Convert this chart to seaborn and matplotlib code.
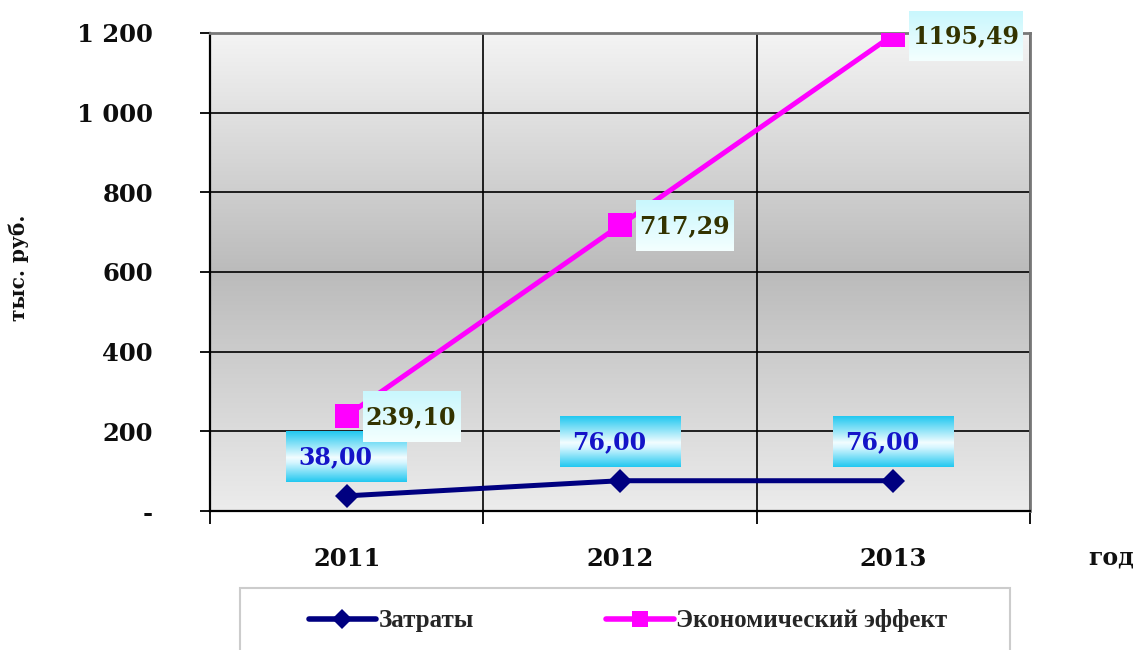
import numpy as np
import pandas as pd
import matplotlib
matplotlib.use("Agg")
import matplotlib.pyplot as plt
import seaborn as sns
from matplotlib.colors import LinearSegmentedColormap
from matplotlib.lines import Line2D
from matplotlib.patches import Rectangle

# data
years = [2011, 2012, 2013]
costs = [38.00, 76.00, 76.00]
effect = [239.10, 717.29, 1195.49]
series_names = ["Затраты", "Экономический эффект"]
y_ticks = [0, 200, 400, 600, 800, 1000, 1200]
y_tick_labels = ["-", "200", "400", "600", "800", "1 000", "1 200"]

navy = "#000080"
pink = "#ff00ff"

df = pd.DataFrame({
    "год": years * 2,
    "value": costs + effect,
    "series": [series_names[0]] * len(years) + [series_names[1]] * len(years),
})

sns.set_theme(style="white")
plt.rcParams["font.family"] = ["DejaVu Serif"]

W, H = 1137, 650
fig = plt.figure(figsize=(W / 100, H / 100), dpi=100)
ax_l, ax_b, ax_w, ax_h = 210, 139, 820, 478
ax = fig.add_axes([ax_l / W, ax_b / H, ax_w / W, ax_h / H])

# grey gradient behind the plot area
bg = LinearSegmentedColormap.from_list(
    "bg", [(0, "#ececec"), (0.5, "#bbbbbb"), (1, "#f4f4f4")])
ax.imshow(np.linspace(1, 0, 256).reshape(-1, 1), cmap=bg, vmin=0, vmax=1,
          aspect="auto", extent=(0, 1, 0, 1), transform=ax.transAxes, zorder=0)

sns.lineplot(data=df, x="год", y="value", hue="series", style="series",
             palette={series_names[0]: navy, series_names[1]: pink},
             markers={series_names[0]: "D", series_names[1]: "s"},
             dashes=False, lw=3.6, markeredgewidth=0, legend=False, ax=ax, zorder=3)
for line in ax.lines:
    line.set_markersize(17 if line.get_marker() == "s" else 12.5)

ax.set_xlim(years[0] - 0.5, years[-1] + 0.5)
ax.set_ylim(y_ticks[0], y_ticks[-1])
ax.set_xticks(years, [str(y) for y in years])
ax.set_xticks([y - 0.5 for y in years] + [years[-1] + 0.5], minor=True)
ax.set_yticks(y_ticks, y_tick_labels)
ax.tick_params(axis="x", which="major", length=0, pad=26, labelsize=17.5)
ax.tick_params(axis="x", which="minor", length=9, width=1.3, color="black",
               direction="out", bottom=True)
ax.tick_params(axis="y", length=7, width=1.3, color="black", direction="out",
               left=True, pad=34, labelsize=17.5)
for lab in ax.get_xticklabels() + ax.get_yticklabels():
    lab.set_fontweight("bold")
    lab.set_color("#0d0d0d")

ax.set_axisbelow("line")
ax.grid(True, axis="y", which="major", color="black", lw=1.2)
ax.grid(True, axis="x", which="minor", color="black", lw=1.2)
for side in ["left", "bottom"]:
    ax.spines[side].set_color("black")
    ax.spines[side].set_linewidth(1.6)
for side in ["top", "right"]:
    ax.spines[side].set_color("#777777")
    ax.spines[side].set_linewidth(2)
ax.set_xlabel("")
ax.set_ylabel("")


def px2dx(p):
    return p * (years[-1] - years[0] + 1) / ax_w


def px2dy(p):
    return p * (y_ticks[-1] - y_ticks[0]) / ax_h


def fmt(v):
    return f"{v:.2f}".replace(".", ",")


grad = np.linspace(0, 1, 128).reshape(-1, 1)
cyan = LinearSegmentedColormap.from_list(
    "cyan", [(0, "#22c8f0"), (0.52, "#f2fdff"), (0.62, "#d6f6ff"), (1, "#22c8f0")])
pale = LinearSegmentedColormap.from_list("pale", [(0, "#c9f7fd"), (1, "#f4ffff")])

# cost labels: centred boxes above the points
for yr, v in zip(years, costs):
    ax.imshow(grad, cmap=cyan, vmin=0, vmax=1, aspect="auto", zorder=4,
              extent=(yr - px2dx(60.5), yr + px2dx(60.5), v + px2dy(13.5), v + px2dy(63.5)))
    ax.text(yr - px2dx(11), v + px2dy(39), fmt(v), ha="center", va="center",
            color="#1414c8", fontsize=17, fontweight="bold", zorder=5)

# effect labels: boxes to the right of the points
renderer = fig.canvas.get_renderer()
for yr, v in zip(years, effect):
    t = ax.text(yr + px2dx(19), v - px2dy(1), fmt(v), ha="left", va="center",
                color="#333300", fontsize=17, fontweight="bold", zorder=6, clip_on=False)
    bb = t.get_window_extent(renderer)
    w_px = bb.width + 7
    ax.imshow(grad, cmap=pale, vmin=0, vmax=1, aspect="auto", zorder=5, clip_on=False,
              extent=(yr + px2dx(16), yr + px2dx(16 + w_px), v - px2dy(26), v + px2dy(24)))

ax.set_xlim(years[0] - 0.5, years[-1] + 0.5)
ax.set_ylim(y_ticks[0], y_ticks[-1])

fig.text(1088 / W, (H - 557) / H, "год", ha="left", va="center",
         fontsize=17, fontweight="bold", color="#111111")
fig.text(19 / W, (H - 268) / H, "тыс. руб.", rotation=90, ha="center", va="center",
         fontsize=14.5, fontweight="bold", color="#111111")

# legend with its own frame, cut by the bottom edge
fig.add_artist(Rectangle((240 / W, -0.05), 770 / W, (H - 588) / H + 0.05,
                         transform=fig.transFigure, fill=False,
                         edgecolor="#cccccc", lw=1.5))
handles = [
    Line2D([], [], color=navy, lw=4, marker="D", ms=10, markeredgewidth=0),
    Line2D([], [], color=pink, lw=4, marker="s", ms=11, markeredgewidth=0),
]
fig.legend(handles, series_names, loc="center left",
           bbox_to_anchor=(296 / W, (H - 621) / H), ncol=2, frameon=False,
           borderpad=0, handlelength=2.7, handletextpad=0.1, columnspacing=5.3,
           prop={"family": "Liberation Serif", "weight": "bold", "size": 18})

fig.savefig("out.png", dpi=100)
